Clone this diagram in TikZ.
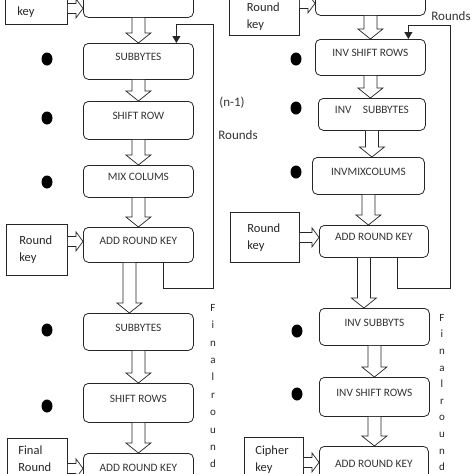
\documentclass[tikz,border=0pt]{standalone}
\usepackage{fontspec}
\setmainfont{Carlito}
\usetikzlibrary{calc,arrows.meta,shapes.geometric}
\begin{document}
\begin{tikzpicture}[x=1pt,y=-1pt,
  box/.style={draw=black!85, rounded corners=5pt, line width=0.8pt, anchor=north west, inner sep=0pt,
    font=\fontsize{11.3}{13}\selectfont, text=black!80, text height=7.5pt, text depth=8.5pt},
  keybox/.style={draw=black!85, line width=0.8pt, anchor=north west, inner sep=0pt, align=left,
    font=\fontsize{12.5}{17}\selectfont, text=black!85},
  dot/.style={draw=none, fill=black, ellipse, minimum width=11pt, minimum height=13pt, inner sep=0pt},
  lbl/.style={font=\fontsize{13}{15}\selectfont, text=black!80, inner sep=0pt},
  vtext/.style={font=\fontsize{11}{17.4}\selectfont, text=black!85, align=center, anchor=north, inner sep=0pt},
  vhollow/.style={draw=black!85, fill=white, line width=0.7pt, to path={let \p1=(\tikztostart), \p2=(\tikztotarget) in
    (\x1-6.5pt,\y1) -- (\x1-6.5pt,\y2+10pt) -- (\x1-12.5pt,\y2+10pt) -- (\x1,\y2) -- (\x1+12.5pt,\y2+10pt) -- (\x1+6.5pt,\y2+10pt) -- (\x1+6.5pt,\y1)}},
  hhollow/.style={draw=black!85, fill=white, line width=0.7pt, to path={let \p1=(\tikztostart), \p2=(\tikztotarget) in
    (\x1,\y1+5pt) -- (\x2-7pt,\y1+5pt) -- (\x2-7pt,\y1+9.5pt) -- (\x2,\y1) -- (\x2-7pt,\y1-9.5pt) -- (\x2-7pt,\y1-5pt) -- (\x1,\y1-5pt)}},
  loopline/.style={draw=black!85, line width=0.8pt, -{Triangle[length=7pt,width=8pt]}}
]
\useasboundingbox (0,0) rectangle (474,474);
\clip (0,0) rectangle (474,474);

% ---------- left column ----------
\node[box, minimum width=110pt, minimum height=37pt] (ltop) at (83,-20) {};
\node[box, minimum width=110pt, minimum height=36pt] (lsb1) at (83,43) {SUBBYTES\hspace{12pt}};
\node[box, minimum width=110pt, minimum height=38pt] (lsr1) at (83,101) {SHIFT ROW\hspace{10pt}};
\node[box, minimum width=110pt, minimum height=32pt] (lmc1) at (83,165) {MIX COLUMS\hspace{5pt}};
\node[box, minimum width=110pt, minimum height=35pt] (lark1) at (83,227) {ADD ROUND KEY};
\node[box, minimum width=110pt, minimum height=37pt] (lsb2) at (83,313) {SUBBYTES\hspace{12pt}};
\node[box, minimum width=110pt, minimum height=39pt] (lsr2) at (83,383) {SHIFT ROWS\hspace{12pt}};
\node[box, minimum width=110pt, minimum height=37pt] (lark2) at (83,453) {ADD ROUND KEY};

\node[keybox, minimum width=62pt, minimum height=25pt, text width=38pt] (lkey0) at (5,-1) {key};
\node[keybox, minimum width=61pt, minimum height=51pt, text width=35pt] (lrk) at (6,224) {Round\\key};
\node[keybox, minimum width=60pt, minimum height=40pt, text width=38pt] (lfr) at (7,438) {Final\\Round};

\node[dot] (ld1) at (47,59) {};
\node[dot] (ld2) at (47,118) {};
\node[dot] (ld3) at (47,182) {};
\node[dot] (ld4) at (47,330) {};
\node[dot] (ld5) at (47,406) {};

\draw[vhollow] (ltop.south) to (ltop.south |- lsb1.north);
\draw[vhollow] (lsb1.south) to (lsb1.south |- lsr1.north);
\draw[vhollow] (lsr1.south) to (lsr1.south |- lmc1.north);
\draw[vhollow] (lmc1.south) to (lmc1.south |- lark1.north);
\draw[vhollow] ([xshift=-9pt]lark1.south) to ([xshift=-9pt]lark1.south |- lsb2.north);
\draw[vhollow] (lsb2.south) to (lsb2.south |- lsr2.north);
\draw[vhollow] (lsr2.south) to (lsr2.south |- lark2.north);

\draw[hhollow] ($(lkey0.east |- ltop.west)+(0,9.5)$) to (ltop.west);
\draw[hhollow] ($(lrk.east |- lark1.west)+(0,-3.5)$) to (lark1.west);
\draw[hhollow] ($(lfr.east |- lark2.west)+(0,-3.5)$) to (lark2.west);

\coordinate (lc1) at (213,288);
\coordinate (lc2) at (213,24);
\draw[loopline] ([xshift=25pt]lark1.south) |- (lc1) -- (lc2) -| ([xshift=38pt]lsb1.north);

\node[lbl] (lnr) at (232,103) {(n-1)};
\node[lbl] (lrounds) at (238,135) {Rounds};
\node[vtext] (lfinal) at (213,304) {F\\i\\n\\a\\l\\r\\o\\u\\n\\d};

% ---------- right column ----------
\node[box, minimum width=110pt, minimum height=35pt] (rtop) at (315,-20) {};
\node[box, minimum width=110pt, minimum height=36pt] (risr1) at (315,39) {INV SHIFT ROWS};
\node[box, minimum width=107pt, minimum height=32pt] (risb1) at (318,98) {INV\quad SUBBYTES};
\node[box, minimum width=112pt, minimum height=37pt] (rimc1) at (312,157) {INVMIXCOLUMS};
\node[box, minimum width=109pt, minimum height=32pt] (rark1) at (319,225) {ADD ROUND KEY};
\node[box, minimum width=110pt, minimum height=37pt] (risb2) at (319,308) {INV SUBBYTS};
\node[box, minimum width=110pt, minimum height=39pt] (risr2) at (319,377) {INV SHIFT ROWS};
\node[box, minimum width=109pt, minimum height=44pt] (rark2) at (319,446) {ADD ROUND KEY};

\node[keybox, minimum width=70pt, minimum height=38pt, text width=35pt] (rkey0) at (229,-3) {Round\\key};
\node[keybox, minimum width=69pt, minimum height=50pt, text width=35pt] (rrk) at (230,212) {Round\\key};
\node[keybox, minimum width=59pt, minimum height=45pt, text width=37pt] (rck) at (244,437) {Cipher\\key};

\node[dot] (rd1) at (296,59) {};
\node[dot] (rd2) at (296,108) {};
\node[dot] (rd3) at (296,172) {};
\node[dot] (rd4) at (297,331) {};
\node[dot] (rd5) at (297,394) {};

\draw[vhollow] (rtop.south) to (rtop.south |- risr1.north);
\draw[vhollow] (risr1.south) to (risr1.south |- risb1.north);
\draw[vhollow] (risb1.south) to (risb1.south |- rimc1.north);
\draw[vhollow] (rimc1.south) to (rimc1.south |- rark1.north);
\draw[vhollow] ([xshift=-10pt]rark1.south) to ([xshift=-10pt]rark1.south |- risb2.north);
\draw[vhollow] (risb2.south) to (risb2.south |- risr2.north);
\draw[vhollow] (risr2.south) to (risr2.south |- rark2.north);

\draw[hhollow] ($(rkey0.east |- rtop.west)+(0,5.5)$) to (rtop.west);
\draw[hhollow] ($(rrk.east |- rark1.west)+(0,-4)$) to (rark1.west);
\draw[hhollow] ($(rck.east |- rark2.west)+(0,-6)$) to (rark2.west);

\coordinate (rc1) at (450,288);
\coordinate (rc2) at (450,25);
\draw[loopline] ([xshift=23.5pt]rark1.south) |- (rc1) -- (rc2) -| ([xshift=38pt]risr1.north);

\node[lbl] (rrounds) at (451,16) {Rounds};
\node[vtext, font=\fontsize{11}{16.6}\selectfont] (rfinal) at (442,314) {F\\i\\n\\a\\l\\r\\o\\u\\n\\d};
\end{tikzpicture}
\end{document}
